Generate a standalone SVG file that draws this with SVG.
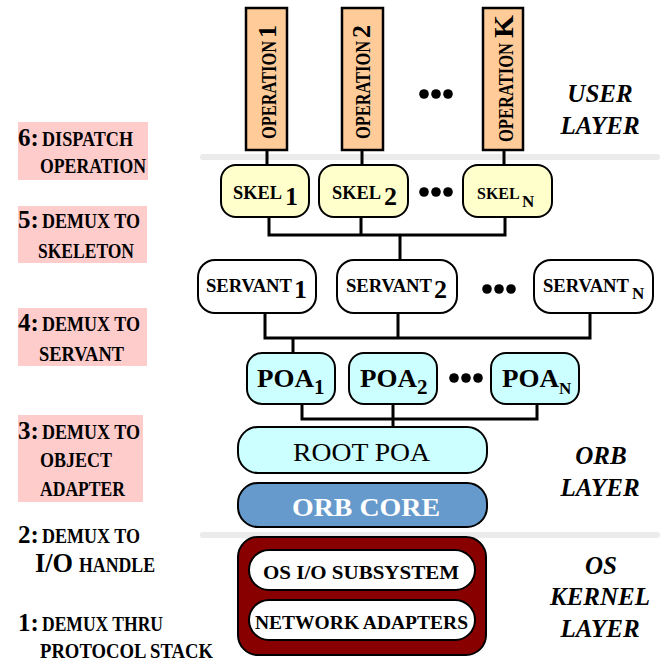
<svg xmlns="http://www.w3.org/2000/svg" width="660" height="662" viewBox="0 0 660 662">
<style>
text{font-family:"Liberation Serif","Times New Roman",serif;font-weight:bold;fill:#000}
.op{fill:#ffcc99;stroke:#000;stroke-width:2.5}
.skel{fill:#ffffcc;stroke:#000;stroke-width:2}
.serv{fill:#fff;stroke:#000;stroke-width:2}
.poa{fill:#ccffff;stroke:#000;stroke-width:2}
.pink{fill:#ffcccc}
.sep{stroke:#ebebeb;stroke-width:6;stroke-linecap:round;fill:none}
.conn{stroke:#000;stroke-width:3;fill:none}
.big{font-size:25px}
.sm{font-size:20px}
.layer{font-style:italic;font-size:25px;text-anchor:middle}
</style>
<rect width="660" height="662" fill="#fff"/>
<path class="sep" d="M203 157H657M203 535H657"/>

<g id="steps">
<rect class="pink" x="18" y="122" width="130" height="58"/>
<text x="18" y="146" class="big">6:</text><text x="42" y="146" class="sm" textLength="91" lengthAdjust="spacingAndGlyphs">DISPATCH</text>
<text x="40" y="173" class="sm" textLength="106" lengthAdjust="spacingAndGlyphs">OPERATION</text>
<rect class="pink" x="18" y="206" width="129" height="57"/>
<text x="18" y="228" class="big">5:</text><text x="42" y="228" class="sm" textLength="98" lengthAdjust="spacingAndGlyphs">DEMUX TO</text>
<text x="38" y="258" class="sm" textLength="96" lengthAdjust="spacingAndGlyphs">SKELETON</text>
<rect class="pink" x="18" y="308" width="129" height="58"/>
<text x="18" y="331" class="big">4:</text><text x="42" y="331" class="sm" textLength="98" lengthAdjust="spacingAndGlyphs">DEMUX TO</text>
<text x="39" y="361" class="sm" textLength="85" lengthAdjust="spacingAndGlyphs">SERVANT</text>
<rect class="pink" x="18" y="415" width="125" height="87"/>
<text x="18" y="439" class="big">3:</text><text x="42" y="439" class="sm" textLength="98" lengthAdjust="spacingAndGlyphs">DEMUX TO</text>
<text x="40" y="467" class="sm" textLength="72" lengthAdjust="spacingAndGlyphs">OBJECT</text>
<text x="40" y="496" class="sm" textLength="85" lengthAdjust="spacingAndGlyphs">ADAPTER</text>
<text x="18" y="543" class="big">2:</text><text x="42" y="543" class="sm" textLength="98" lengthAdjust="spacingAndGlyphs">DEMUX TO</text>
<text x="35" y="572" font-size="27" textLength="38" lengthAdjust="spacingAndGlyphs">I/O</text><text x="79" y="572" class="sm" textLength="76" lengthAdjust="spacingAndGlyphs">HANDLE</text>
<text x="18" y="631" class="big">1:</text><text x="42" y="631" class="sm" textLength="121" lengthAdjust="spacingAndGlyphs">DEMUX THRU</text>
<text x="40" y="658" class="sm" textLength="173" lengthAdjust="spacingAndGlyphs">PROTOCOL STACK</text>
</g>

<g id="layers">
<text class="layer" x="600" y="102">USER</text>
<text class="layer" x="600" y="134">LAYER</text>
<text class="layer" x="601" y="464">ORB</text>
<text class="layer" x="600" y="496">LAYER</text>
<text class="layer" x="601" y="574">OS</text>
<text class="layer" x="600" y="605">KERNEL</text>
<text class="layer" x="600" y="637">LAYER</text>
</g>

<g id="connectors">
<path class="conn" d="M267 150V165M362 150V165M504 150V165"/>
<path class="conn" d="M269 217V235H505V217M361 217V235M400 235V260"/>
<path class="conn" d="M265 313V338H590V313M398 313V338M293 338V353"/>
<path class="conn" d="M302 404V419H537V404M393 404V427"/>
</g>

<g id="op1">
<rect class="op" x="246" y="8" width="41" height="142"/>
<text transform="translate(276,139) rotate(-90)" font-size="21" textLength="98" lengthAdjust="spacingAndGlyphs">OPERATION</text>
<text transform="translate(276,38) rotate(-90)" font-size="26">1</text>
</g>
<g id="op2">
<rect class="op" x="342" y="8" width="41" height="142"/>
<text transform="translate(370,139) rotate(-90)" font-size="21" textLength="98" lengthAdjust="spacingAndGlyphs">OPERATION</text>
<text transform="translate(370,38) rotate(-90)" font-size="26">2</text>
</g>
<g id="opK">
<rect class="op" x="483" y="8" width="40" height="142"/>
<text transform="translate(513,142) rotate(-90)" font-size="21" textLength="99" lengthAdjust="spacingAndGlyphs">OPERATION</text>
<text transform="translate(513,38) rotate(-90)" font-size="28" textLength="23" lengthAdjust="spacingAndGlyphs">K</text>
</g>
<g id="opdots"><circle cx="424" cy="94" r="4.8"/><circle cx="436" cy="94" r="4.8"/><circle cx="448" cy="94" r="4.8"/></g>

<g id="skel1">
<rect class="skel" x="221" y="165" width="88" height="52" rx="15"/>
<text x="233" y="199" font-size="18" textLength="49" lengthAdjust="spacingAndGlyphs">SKEL</text>
<text x="285" y="205" font-size="26">1</text>
</g>
<g id="skel2">
<rect class="skel" x="319" y="165" width="89" height="52" rx="15"/>
<text x="332" y="199" font-size="18" textLength="49" lengthAdjust="spacingAndGlyphs">SKEL</text>
<text x="384" y="205" font-size="26">2</text>
</g>
<g id="skelN">
<rect class="skel" x="463" y="165" width="89" height="52" rx="15"/>
<text x="477" y="199" font-size="16">SKEL</text>
<text x="522" y="207" font-size="17">N</text>
</g>
<g id="skeldots"><circle cx="424" cy="192" r="4.8"/><circle cx="436" cy="192" r="4.8"/><circle cx="448" cy="192" r="4.8"/></g>

<g id="servant1">
<rect class="serv" x="198" y="260" width="118" height="53" rx="17"/>
<text x="206" y="292" font-size="18" textLength="86" lengthAdjust="spacingAndGlyphs">SERVANT</text>
<text x="294" y="298" font-size="26">1</text>
</g>
<g id="servant2">
<rect class="serv" x="337" y="260" width="120" height="53" rx="17"/>
<text x="346" y="292" font-size="18" textLength="86" lengthAdjust="spacingAndGlyphs">SERVANT</text>
<text x="434" y="298" font-size="26">2</text>
</g>
<g id="servantN">
<rect class="serv" x="534" y="260" width="119" height="53" rx="17"/>
<text x="543" y="292" font-size="18" textLength="86" lengthAdjust="spacingAndGlyphs">SERVANT</text>
<text x="632" y="299" font-size="17">N</text>
</g>
<g id="servdots"><circle cx="487" cy="289" r="4.8"/><circle cx="499" cy="289" r="4.8"/><circle cx="511" cy="289" r="4.8"/></g>

<g id="poa1">
<rect class="poa" x="247" y="353" width="88" height="51" rx="15"/>
<text x="257" y="387" font-size="25" textLength="57" lengthAdjust="spacingAndGlyphs">POA</text>
<text x="314" y="394" font-size="21">1</text>
</g>
<g id="poa2">
<rect class="poa" x="349" y="353" width="88" height="51" rx="15"/>
<text x="360" y="387" font-size="25" textLength="57" lengthAdjust="spacingAndGlyphs">POA</text>
<text x="417" y="394" font-size="21">2</text>
</g>
<g id="poaN">
<rect class="poa" x="491" y="353" width="88" height="51" rx="15"/>
<text x="502" y="387" font-size="25" textLength="57" lengthAdjust="spacingAndGlyphs">POA</text>
<text x="559" y="394" font-size="17">N</text>
</g>
<g id="poadots"><circle cx="454" cy="378" r="4.8"/><circle cx="466" cy="378" r="4.8"/><circle cx="478" cy="378" r="4.8"/></g>

<g id="rootpoa">
<rect class="poa" x="238" y="427" width="249" height="46" rx="20"/>
<text x="293" y="461" font-size="25" textLength="137" lengthAdjust="spacingAndGlyphs" style="font-weight:normal">ROOT  POA</text>
</g>
<g id="orbcore">
<rect x="238" y="483" width="249" height="44" rx="20" fill="#6699cc" stroke="#000" stroke-width="2"/>
<text x="292" y="516" font-size="26" textLength="148" lengthAdjust="spacingAndGlyphs" style="fill:#fff">ORB  CORE</text>
</g>
<g id="oskernel">
<rect x="238" y="537" width="248" height="118" rx="20" fill="#880000" stroke="#000" stroke-width="2"/>
<rect x="249" y="550" width="226" height="40" rx="20" fill="#fff" stroke="#000" stroke-width="2"/>
<text x="263" y="579" font-size="19" textLength="196" lengthAdjust="spacingAndGlyphs">OS  I/O  SUBSYSTEM</text>
<rect x="249" y="600" width="226" height="40" rx="20" fill="#fff" stroke="#000" stroke-width="2"/>
<text x="255" y="629" font-size="19" textLength="213" lengthAdjust="spacingAndGlyphs">NETWORK  ADAPTERS</text>
</g>
</svg>
